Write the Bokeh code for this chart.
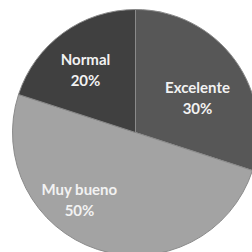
import math
from bokeh.plotting import figure
from bokeh.models import Range1d, ColumnDataSource
from bokeh.core.properties import value
from bokeh.embed import file_html
from bokeh.resources import INLINE

categories = ["Excelente", "Muy bueno", "Normal"]
percents = [30, 50, 20]
colors = ["#575757", "#a3a3a3", "#404040"]

# layout (pixels in page coordinates)
cx, cy, r = 135, -132, 123
label_pos = {"Excelente": (197, -97), "Muy bueno": (79, -199), "Normal": (85, -69)}

starts, ends = [], []
a = 90.0
for pct in percents:
    end = a
    start = a - pct / 100 * 360
    starts.append(math.radians(start))
    ends.append(math.radians(end))
    a = start

src = ColumnDataSource(dict(cat=categories, start=starts, end=ends, color=colors))

p = figure(width=252, height=252, output_backend="svg", toolbar_location=None,
           x_range=Range1d(0, 252), y_range=Range1d(-252, 0), min_border=0)
p.axis.visible = False
p.grid.visible = False
p.outline_line_color = None
p.background_fill_color = "white"

p.wedge(x=cx, y=cy, radius=r, start_angle="start", end_angle="end",
        fill_color="color", line_color="#8a8a8a", line_width=1, source=src)

names_x, names_y, pct_y, pct_txt = [], [], [], []
for c, pct in zip(categories, percents):
    lx, ly = label_pos[c]
    names_x.append(lx)
    names_y.append(ly + 10.5)
    pct_y.append(ly - 10.5)
    pct_txt.append(f"{pct}%")

p.text(x=names_x, y=names_y, text=categories, text_align="center", text_baseline="middle",
       text_font=value("Lato"), text_font_size="15px", text_font_style="bold", text_color="#f2f2f2")
p.text(x=names_x, y=pct_y, text=pct_txt, text_align="center", text_baseline="middle",
       text_font=value("Lato"), text_font_size="15px", text_font_style="bold", text_color="#f2f2f2")

open("out.html", "w").write(file_html(p, INLINE))
